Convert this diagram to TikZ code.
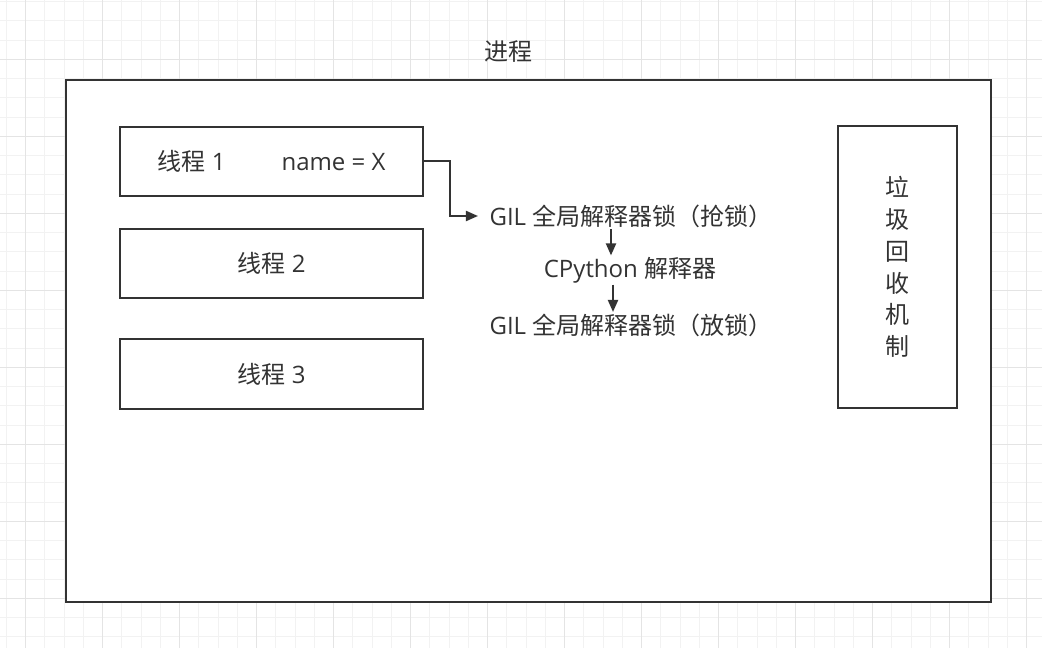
\documentclass[tikz,border=0pt]{standalone}
\usepackage{fontspec}
\setmainfont{Open Sans}
\newfontfamily\cjk{Noto Sans CJK SC}
\usetikzlibrary{arrows.meta}
\definecolor{ink}{HTML}{333333}
\definecolor{gridminor}{HTML}{F2F2F2}
\definecolor{gridmajor}{HTML}{E4E4E4}

\begin{document}
\begin{tikzpicture}[x=0.75pt, y=-0.75pt, text=ink,
  font=\fontsize{18}{23.8}\selectfont,
  frame/.style={draw=ink, fill=white, line width=1.5pt, inner sep=0pt},
  thread/.style={frame, minimum width=227.25pt, minimum height=51.75pt},
  flow/.style={draw=ink, line width=1.5pt, -{Triangle[length=9pt,width=7.5pt]}},
  word/.style={inner xsep=8.5pt, inner ysep=1pt}]
\useasboundingbox (0,0) rectangle (1042,648);
\fill[white] (0,0) rectangle (1042,648);
\foreach \gx in {0,...,53}
  \draw[gridminor, line width=0.75pt] ({6.45+19.25*\gx},0) -- ++(0,648);
\foreach \gy in {0,...,33}
  \draw[gridminor, line width=0.75pt] (0,{1.7+19.25*\gy}) -- ++(1042,0);
\foreach \gx in {0,...,13}
  \draw[gridmajor, line width=0.75pt] ({25.7+77*\gx},0) -- ++(0,648);
\foreach \gy in {0,...,7}
  \draw[gridmajor, line width=0.75pt] (0,{59.3+77*\gy}) -- ++(1042,0);

\node[frame, minimum width=693.75pt, minimum height=391.5pt] (proc) at (528,341) {};
\node (title) at (508,52) {\cjk 进程};
\node[thread] (t1) at (271.5,161.5) {{\cjk 线程} 1\hspace{42pt}name = X};
\node[thread] (t2) at (271.5,263.3) {{\cjk 线程} 2};
\node[thread] (t3) at (271.5,374) {{\cjk 线程} 3};
\node[frame, minimum width=88.9pt, minimum height=212pt, align=center, font=\cjk\fontsize{18}{23.8}\selectfont] (gc) at (897.5,267)
  {垃\\圾\\回\\收\\机\\制};
\node[word] (gil1) at (631,216) {GIL {\cjk 全局解释器锁（抢锁）}};
\node[word] (cpy) at (630,270) {CPython {\cjk 解释器}};
\node[word] (gil2) at (631,325) {GIL {\cjk 全局解释器锁（放锁）}};

\draw[flow] (t1.east) -- ++(26,0) |- (gil1.west);
\draw[flow] ([xshift=-15pt]gil1.south) -- ([xshift=-14.25pt]cpy.north);
\draw[flow] ([xshift=-12.75pt]cpy.south) -- ([xshift=-13.5pt]gil2.north);
\end{tikzpicture}
\end{document}
